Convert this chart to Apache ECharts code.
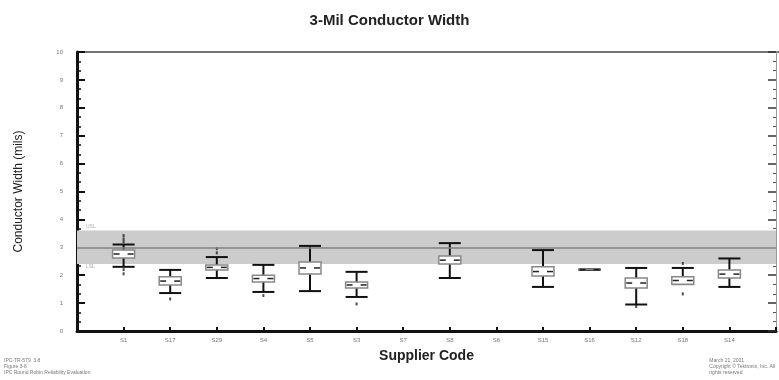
<!DOCTYPE html>
<html>
<head>
<meta charset="utf-8">
<script src="https://cdn.jsdelivr.net/npm/echarts@6/dist/echarts.min.js"></script>
<style>
html, body { margin: 0; padding: 0; background: #fff; }
#box1 { width: 779px; height: 380px; }
</style>
</head>
<body>
<div id="box1"></div>
<script>
// 供应商代码 + 箱线图统计值（null = 无数据）
var suppliers = ['S1', 'S17', 'S29', 'S4', 'S5', 'S3', 'S7', 'S8', 'S6', 'S15', 'S16', 'S12', 'S18', 'S14'];
var minVals = [2.30, 1.36, 1.90, 1.40, 1.43, 1.22, null, 1.90, null, 1.58, 2.20, 0.95, 1.68, 1.58];
var q1Vals  = [2.62, 1.65, 2.19, 1.76, 2.04, 1.54, null, 2.40, null, 1.97, 2.20, 1.54, 1.68, 1.90];
var medVals = [2.76, 1.79, 2.28, 1.88, 2.26, 1.65, null, 2.54, null, 2.13, 2.20, 1.72, 1.81, 2.04];
var q3Vals  = [2.90, 1.94, 2.37, 2.00, 2.47, 1.76, null, 2.69, null, 2.30, 2.20, 1.90, 1.94, 2.19];
var maxVals = [3.10, 2.19, 2.65, 2.37, 3.05, 2.12, null, 3.15, null, 2.90, 2.20, 2.26, 2.26, 2.60];
// 离群点 [供应商序号, 值]
var outliers = [[0, 3.2], [0, 3.3], [0, 3.42], [0, 2.2], [0, 2.05], [1, 1.15], [2, 2.8], [2, 2.95],
    [3, 1.27], [5, 0.97], [11, 0.88], [12, 2.42], [12, 1.33]];
var specLow = 2.4, specHigh = 3.6, nominal = 3.0;
var yTicks = [0, 1, 2, 3, 4, 5, 6, 7, 8, 9, 10];

var boxData = [];
suppliers.forEach(function (s, i) {
    if (minVals[i] == null) return;
    boxData.push([i + 1, minVals[i], q1Vals[i], medVals[i], q3Vals[i], maxVals[i]]);
});

function renderBox(params, api) {
    var x = api.value(0);
    var pMin = api.coord([x, api.value(1)]);
    var pQ1 = api.coord([x, api.value(2)]);
    var pMed = api.coord([x, api.value(3)]);
    var pQ3 = api.coord([x, api.value(4)]);
    var pMax = api.coord([x, api.value(5)]);
    var cx = pMin[0], hw = 11;
    var black = { stroke: '#111', lineWidth: 2 };
    return {
        type: 'group',
        children: [
            { type: 'line', shape: { x1: cx, y1: pMax[1], x2: cx, y2: pMin[1] }, style: black },
            { type: 'line', shape: { x1: cx - hw, y1: pMax[1], x2: cx + hw, y2: pMax[1] }, style: black },
            { type: 'line', shape: { x1: cx - hw, y1: pMin[1], x2: cx + hw, y2: pMin[1] }, style: black },
            { type: 'rect', shape: { x: cx - hw, y: pQ3[1], width: hw * 2, height: pQ1[1] - pQ3[1] },
              style: { fill: '#fff', stroke: '#888', lineWidth: 1.5 } },
            { type: 'line', shape: { x1: cx - hw + 1, y1: pMed[1], x2: cx - 4, y2: pMed[1] }, style: { stroke: '#222', lineWidth: 1.5 } },
            { type: 'line', shape: { x1: cx + 4, y1: pMed[1], x2: cx + hw - 1, y2: pMed[1] }, style: { stroke: '#222', lineWidth: 1.5 } }
        ]
    };
}

var myChart1 = echarts.init(document.getElementById('box1'));
var option1 = {
    animation: false,
    textStyle: { fontFamily: 'Liberation Sans' },
    title: {
        text: '3-Mil Conductor Width',
        left: 'center',
        top: 8,
        textStyle: { fontSize: 15, fontWeight: 'bold', color: '#222', fontFamily: 'Liberation Sans' }
    },
    grid: { left: 77, right: 2, top: 52, bottom: 49 },
    xAxis: {
        type: 'value',
        min: 0,
        max: 15,
        interval: 1,
        name: 'Supplier Code',
        nameLocation: 'middle',
        nameGap: 18,
        nameTextStyle: { fontSize: 14, fontWeight: 'bold', color: '#222' },
        axisLine: { onZero: false, lineStyle: { color: '#111', width: 3 } },
        axisTick: { inside: true, length: 4, lineStyle: { color: '#111', width: 2 } },
        axisLabel: {
            fontSize: 6, color: '#777', margin: 6,
            formatter: function (v) { return suppliers[v - 1] || ''; }
        },
        splitLine: { show: false }
    },
    yAxis: [{
        type: 'value',
        min: 0,
        max: 10,
        interval: 1,
        name: 'Conductor Width (mils)',
        nameLocation: 'middle',
        nameGap: 52,
        nameTextStyle: { fontSize: 12, color: '#222', fontFamily: 'Liberation Sans' },
        axisLine: { show: true, lineStyle: { color: '#111', width: 3 } },
        axisTick: { inside: true, length: 8, lineStyle: { color: '#111', width: 2 } },
        minorTick: { show: true, splitNumber: 3, length: 4, lineStyle: { color: '#111', width: 1.5 } },
        axisLabel: {
            fontSize: 6, color: '#777', margin: 14,
            formatter: function (v) { return yTicks.indexOf(v) >= 0 ? String(v) : ''; }
        },
        splitLine: { show: false }
    }, {
        type: 'value',
        min: 0,
        max: 10,
        interval: 1,
        position: 'right',
        axisLine: { show: true, lineStyle: { color: '#999', width: 1 } },
        axisTick: { inside: true, length: 8, lineStyle: { color: '#333', width: 1.5 } },
        minorTick: { show: true, splitNumber: 3, length: 3, lineStyle: { color: '#555' } },
        axisLabel: { show: false },
        splitLine: { show: false }
    }],
    graphic: [
        { type: 'line', shape: { x1: 77, y1: 52, x2: 779, y2: 52 }, style: { stroke: '#444', lineWidth: 1.5 } },
        { type: 'text', left: 86, top: 224, style: { text: 'USL', fontSize: 5, fill: '#aaa' } },
        { type: 'text', left: 86, top: 264, style: { text: 'LSL', fontSize: 5, fill: '#aaa' } },
        { type: 'text', left: 4, top: 358, style: { text: 'IPC-TR-579  3.8\nFigure 3-8\nIPC Round Robin Reliability Evaluation', fontSize: 5, lineHeight: 6, fill: '#777' } },
        { type: 'text', right: 4, top: 358, style: { text: 'March 21, 2001\nCopyright © Tektronix, Inc. All\nrights reserved', fontSize: 5, lineHeight: 6, fill: '#777', align: 'right' } }
    ],
    series: [
        {
            name: 'box',
            type: 'custom',
            renderItem: renderBox,
            encode: { x: 0, y: [1, 2, 3, 4, 5] },
            data: boxData,
            z: 3,
            markArea: {
                silent: true,
                itemStyle: { color: '#cccccc' },
                data: [[{ yAxis: specLow }, { yAxis: specHigh }]]
            },
            markLine: {
                silent: true,
                symbol: 'none',
                label: { show: false },
                lineStyle: { color: '#808080', width: 1.5, type: 'solid' },
                data: [{ yAxis: nominal }]
            }
        },
        {
            name: 'outlier',
            type: 'scatter',
            data: outliers.map(function (o) { return [o[0] + 1, o[1]]; }),
            symbol: 'rect',
            symbolSize: [2, 3],
            itemStyle: { color: '#222' },
            z: 4
        }
    ]
};

option1 && myChart1.setOption(option1);
</script>
</body>
</html>
